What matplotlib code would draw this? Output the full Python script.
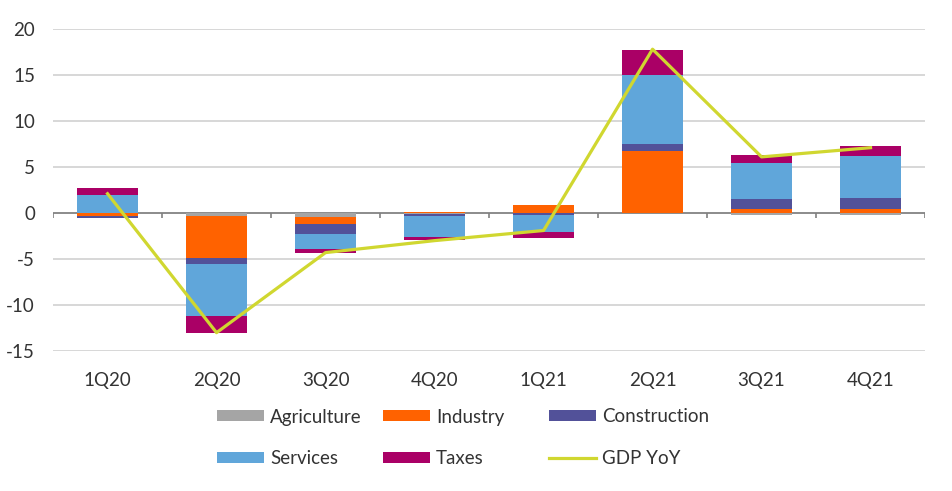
import numpy as np
import matplotlib
matplotlib.use("Agg")
import matplotlib.pyplot as plt

plt.rcParams['font.family'] = ['Lato', 'DejaVu Sans']
plt.rcParams['axes.unicode_minus'] = False

# data (percentage point contributions)
quarters = ["1Q20", "2Q20", "3Q20", "4Q20", "1Q21", "2Q21", "3Q21", "4Q21"]
agriculture = [-0.05, -0.3, -0.47, -0.12, -0.05, 0.0, -0.2, -0.2]
industry = [-0.3, -4.57, -0.72, 0.15, 0.85, 6.74, 0.47, 0.47]
construction = [-0.15, -0.72, -1.05, -0.2, -0.18, 0.79, 1.0, 1.12]
services = [1.98, -5.65, -1.66, -2.3, -1.87, 7.5, 3.93, 4.58]
taxes = [0.72, -1.84, -0.43, -0.32, -0.6, 2.7, 0.86, 1.08]
gdp_yoy = [2.1, -13.0, -4.3, -3.0, -1.9, 17.8, 6.1, 7.1]

series = [("Agriculture", agriculture, "#A5A5A5"),
          ("Industry", industry, "#FF6200"),
          ("Construction", construction, "#525199"),
          ("Services", services, "#60A6DA"),
          ("Taxes", taxes, "#AA0066")]

fig = plt.figure(figsize=(9.52, 4.91), dpi=100)
ax = fig.add_axes([0.0557, 0.285, 0.916, 0.656])

x = np.arange(len(quarters))
pos_base = np.zeros(len(x))
neg_base = np.zeros(len(x))
handles = {}
for name, vals, col in series:
    v = np.array(vals)
    bottom = np.where(v >= 0, pos_base, neg_base)
    b = ax.bar(x, v, 0.56, bottom=bottom, color=col, label=name, zorder=3)
    handles[name] = b
    pos_base = pos_base + np.where(v >= 0, v, 0)
    neg_base = neg_base + np.where(v < 0, v, 0)

line, = ax.plot(x, gdp_yoy, color="#D0D730", lw=2.3, zorder=4, label="GDP YoY")
handles["GDP YoY"] = line

# zero axis with category separators
ax.axhline(0, color="#808080", lw=1.2, zorder=2)
ax.vlines(np.arange(len(x) + 1) - 0.5, -0.55, 0, color="#808080", lw=1.2, zorder=2)

ax.set_xlim(-0.5, len(x) - 0.5)
ax.set_ylim(-15, 20)
ax.set_yticks(np.arange(-15, 21, 5))
ax.yaxis.grid(True, color="#D4D4D4", lw=1.3, zorder=0)
ax.set_axisbelow(True)
for s in ax.spines.values():
    s.set_visible(False)
ax.set_xticks(x)
ax.set_xticklabels(quarters)
ax.tick_params(axis="both", length=0, labelsize=13.5, colors="#333333")
ax.tick_params(axis="x", pad=15)
ax.tick_params(axis="y", pad=13)

# legend: three columns on a fixed grid
cols = [["Agriculture", "Services"], ["Industry", "Taxes"], ["Construction", "GDP YoY"]]
for i, names in enumerate(cols):
    leg = fig.legend([handles[n] for n in names], names, loc="upper left",
                     bbox_to_anchor=((217 + 166 * i - 7.5) / 952, 1 - 401 / 491),
                     frameon=False, fontsize=13.5, handlelength=2.5, handleheight=0.53,
                     handletextpad=0.32, labelspacing=1.3, borderaxespad=0)
    for t in leg.get_texts():
        t.set_color("#333333")

fig.savefig("out.png", dpi=100)
